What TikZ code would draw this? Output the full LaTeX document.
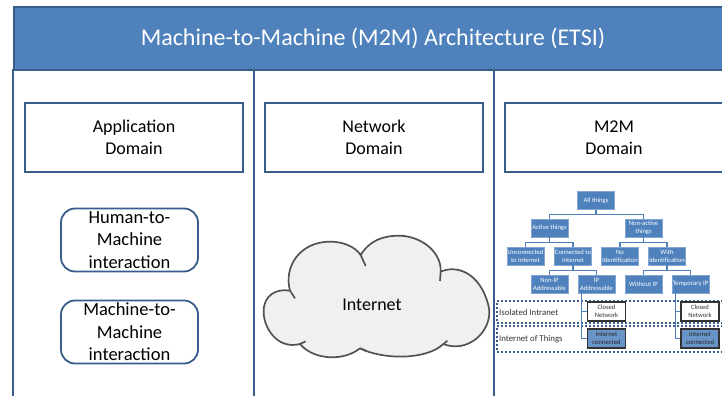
\documentclass[tikz,border=0pt]{standalone}
\usepackage{fontspec}
\setmainfont{Carlito}
\definecolor{acc}{HTML}{4F81BD}
\definecolor{edge}{HTML}{385D8A}
\tikzset{
 bigbox/.style={draw=edge,line width=1.8pt,fill=white,align=center,font=\fontsize{18}{22}\selectfont,text=black,inner sep=0pt},
 pill/.style={bigbox,rounded corners=14pt},
 leaf/.style={fill=acc,draw=acc!70!white,line width=.4pt,text=white,minimum width=37pt,minimum height=18pt,inner sep=0pt,align=center,font=\fontsize{6.6}{8}\selectfont},
 clsd/.style={draw=black!80,line width=1.2pt,fill=white,minimum width=38pt,minimum height=19pt,inner sep=0pt,align=center,text=black!80,font=\fontsize{6.6}{8}\selectfont},
 conn/.style={clsd,fill=acc!85!white,text=black!85},
 link/.style={draw=acc,line width=1.1pt},
 band/.style={draw=edge,line width=2.4pt,dash pattern=on 2pt off 2pt},
 rowlab/.style={anchor=west,text=black!80,inner sep=0pt,font=\fontsize{8.8}{10}\selectfont},
 frame/.style={draw=edge,line width=2pt}
}
\begin{document}
\begin{tikzpicture}[x=1pt,y=-1pt]
\useasboundingbox (0,0) rectangle (722,396);
\clip (0,0) rectangle (722,396);
% title
\node[fill=acc,draw=edge,line width=1.8pt,minimum width=730pt,minimum height=63pt,inner sep=0pt,anchor=north west] (title) at (13,6) {};
\node[text=white,inner sep=0pt,font=\fontsize{24}{28}\selectfont] (titletext) at (373,38.5) {Machine-to-Machine (M2M) Architecture (ETSI)};
% columns
\coordinate (c1t) at (13,69); \coordinate (c1b) at (13,396);
\coordinate (c2t) at (253.5,69); \coordinate (c2b) at (253.5,396);
\coordinate (c3t) at (494,69); \coordinate (c3b) at (494,396);
\draw[frame] (c1t) -- (c1b);
\draw[frame] (c2t) -- (c2b);
\draw[frame] (c3t) -- (c3b);
% domain boxes
\node[bigbox,minimum width=218pt,minimum height=69pt] (app) at (134,137.5) {Application\\Domain};
\node[bigbox,minimum width=218pt,minimum height=69pt] (net) at (374,137.5) {Network\\Domain};
\node[bigbox,minimum width=218pt,minimum height=69pt] (m2m) at (614,137.5) {M2M\\Domain};
% pills
\node[pill,minimum width=137pt,minimum height=63pt,font=\fontsize{18.5}{22.5}\selectfont] (hm) at (129.5,240) {Human-to-\\Machine\\interaction};
\node[pill,minimum width=137pt,minimum height=63pt,font=\fontsize{18.5}{22.5}\selectfont] (mm) at (129.5,332) {Machine-to-\\Machine\\interaction};
% cloud
\begin{scope}[shift={(250,220)},scale=1/3]
\path[fill=black!6,draw=black!68,line width=1.7pt,line join=round]
 (120,212) .. controls (100,140) and (150,65) .. (240,65)
 .. controls (280,65) and (315,80) .. (332,105)
 .. controls (360,60) and (400,47) .. (450,47)
 .. controls (520,50) and (575,100) .. (572,155)
 .. controls (630,130) and (700,170) .. (718,270)
 .. controls (722,340) and (650,400) .. (580,372)
 .. controls (530,420) and (400,420) .. (330,385)
 .. controls (280,425) and (190,420) .. (150,372)
 .. controls (80,390) and (40,320) .. (41,275)
 .. controls (40,225) and (80,205) .. (120,212) -- cycle;
\draw[black!68,line width=1.7pt] (120,212) -- (135,235);
\draw[black!68,line width=1.7pt] (332,105) -- (347,138);
\draw[black!68,line width=1.7pt] (572,155) -- (570,183);
\draw[black!68,line width=1.7pt] (580,372) -- (592,362);
\draw[black!68,line width=1.7pt] (330,385) -- (350,393);
\draw[black!68,line width=1.7pt] (150,372) -- (167,364);
\end{scope}
\node[inner sep=0pt,text=black,font=\fontsize{18}{20}\selectfont] (inet) at (372,305) {Internet};
% bands
\node[band,minimum width=240pt,minimum height=22pt,inner sep=0pt,anchor=north west] (bandA) at (495.5,300) {};
\node[band,minimum width=240pt,minimum height=26pt,inner sep=0pt,anchor=north west] (bandB) at (495.5,324.5) {};
\node[rowlab] (isol) at (499,312) {Isolated Intranet};
\node[rowlab] (iot) at (499,339) {Internet of Things};
% tree
\node[leaf] (all) at (596,200.5) {All things};
\node[leaf] (act) at (549.5,228) {Active things};
\node[leaf] (non) at (643.5,228) {Non-active\\things};
\node[leaf] (unc) at (525.5,256) {Unconnected\\to Internet};
\node[leaf] (con) at (573,256) {Connected to\\Internet};
\node[leaf] (noid) at (620,256) {No\\Identification};
\node[leaf] (wid) at (667,256) {With\\Identification};
\node[leaf] (nip) at (549.5,284) {Non-IP\\Addressable};
\node[leaf] (ipa) at (596.5,284) {IP\\Addressable};
\node[leaf] (wip) at (643.5,284) {Without IP};
\node[leaf] (tip) at (690.5,284) {Temporary IP};
\foreach \p/\c/\h in {all/act/5,all/non/5,act/unc/5,act/con/5,non/noid/5,non/wid/5,con/nip/5,con/ipa/5,wid/wip/5,wid/tip/5}{
 \draw[link] (\p.south) -- ++(0,\h) -| (\c.north);
}
\node[clsd] (cl1) at (606.5,311.5) {Closed\\Network};
\node[clsd] (cl2) at (700,311.5) {Closed\\Network};
\node[conn] (ic1) at (606.5,338.5) {Internet\\connected};
\node[conn] (ic2) at (700,338.5) {Internet\\connected};
\coordinate (ipfoot) at ([xshift=-15pt]ipa.south);
\coordinate (tipfoot) at ([xshift=-15pt]tip.south);
\draw[link] (ipfoot) |- (ic1.west);
\draw[link] (ipfoot |- cl1.west) -- (cl1.west);
\draw[link] (tipfoot) |- (ic2.west);
\draw[link] (tipfoot |- cl2.west) -- (cl2.west);
\end{tikzpicture}
\end{document}
